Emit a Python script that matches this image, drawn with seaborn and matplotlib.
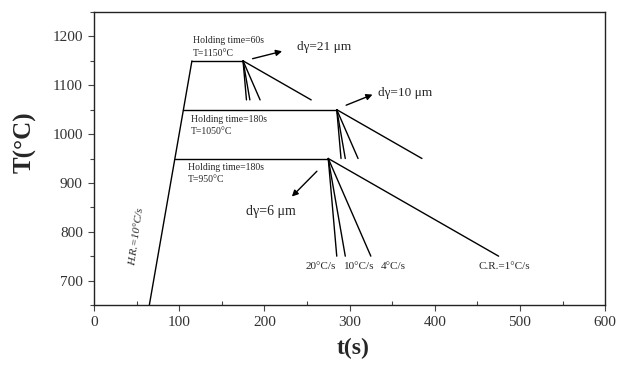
import matplotlib
matplotlib.use("Agg")
import matplotlib.pyplot as plt
import seaborn as sns
import pandas as pd
from matplotlib.ticker import MultipleLocator

# ---- data ----
heat_t = [65, 115]
heat_T = [650, 1150]

plateau_T = [1150, 1050, 950]
plateau_start = [115, 105, 95]
plateau_end = [175, 285, 275]

cool_end_T = [1070, 950, 750]
cool_end_t = {
    1150: [179, 183, 195, 255],
    1050: [290, 295, 310, 385],
    950: [285, 295, 325, 475],
}
rate_labels = ["20°C/s", "10°C/s", "4°C/s", "C.R.=1°C/s"]
rate_label_t = [248, 293, 336.5, 451]

x_ticks = [0, 100, 200, 300, 400, 500, 600]
y_ticks = [700, 800, 900, 1000, 1100, 1200]

# ---- build segment table ----
rows = []
seg = 0
rows += [(seg, heat_t[0], heat_T[0]), (seg, heat_t[1], heat_T[1])]
for T, s, e, Tend in zip(plateau_T, plateau_start, plateau_end, cool_end_T):
    seg += 1
    rows += [(seg, s, T), (seg, e, T)]
    for te in cool_end_t[T]:
        seg += 1
        rows += [(seg, e, T), (seg, te, Tend)]
df = pd.DataFrame(rows, columns=["seg", "t", "T"])

sns.set_style("ticks")
plt.rcParams["font.family"] = ["Liberation Serif", "DejaVu Serif"]

fig = plt.figure(figsize=(6.29, 3.65), dpi=100)
ax = fig.add_axes([0.1494, 0.1644, 0.8126, 0.8027])

sns.lineplot(data=df, x="t", y="T", units="seg", estimator=None, sort=False,
             color="black", linewidth=1.0, ax=ax, legend=False)

ax.set_xlim(0, 600)
ax.set_ylim(650, 1250)
ax.set_xticks(x_ticks)
ax.set_yticks(y_ticks)
ax.xaxis.set_minor_locator(MultipleLocator(50))
ax.yaxis.set_minor_locator(MultipleLocator(50))
ax.tick_params(axis="both", which="major", direction="out", length=4, width=0.8,
               labelsize=11, pad=4, color="#444444", labelcolor="#333333")
ax.tick_params(axis="x", which="minor", direction="in", length=3, width=0.8, color="#444444")
ax.tick_params(axis="y", which="minor", direction="out", length=3, width=0.8, color="#444444")
for sp in ax.spines.values():
    sp.set_visible(True)
    sp.set_linewidth(1.0)
    sp.set_color("#222222")

ax.set_xlabel("t(s)", fontsize=17, fontweight="bold")
ax.set_ylabel("T(°C)", fontsize=18, fontweight="bold")
ax.xaxis.set_label_coords(0.507, -0.112)
ax.yaxis.set_label_coords(-0.112, 0.556)

small = 7
# plateau annotations
ax.text(116, 1191, "Holding time=60s", fontsize=small, va="center", ha="left")
ax.text(116, 1166, "T=1150°C", fontsize=small, va="center", ha="left")
ax.text(114, 1030, "Holding time=180s", fontsize=small, va="center", ha="left")
ax.text(114, 1005, "T=1050°C", fontsize=small, va="center", ha="left")
ax.text(110, 932, "Holding time=180s", fontsize=small, va="center", ha="left")
ax.text(110, 906, "T=950°C", fontsize=small, va="center", ha="left")

# grain size arrows
arrowprops = dict(arrowstyle="-|>", color="black", lw=1.0, mutation_scale=9)
ax.annotate("", xy=(224, 1171), xytext=(183, 1153), arrowprops=arrowprops)
ax.text(238, 1179, "dγ=21 μm", fontsize=9.5, va="center", ha="left")
ax.annotate("", xy=(330, 1083), xytext=(293, 1057), arrowprops=arrowprops)
ax.text(333, 1084, "dγ=10 μm", fontsize=9.5, va="center", ha="left")
ax.annotate("", xy=(230, 868), xytext=(264, 928), arrowprops=arrowprops)
ax.text(179, 842, "dγ=6 μm", fontsize=10, va="center", ha="left")

# cooling rate labels
for lab, tx in zip(rate_labels, rate_label_t):
    ax.text(tx, 728, lab, fontsize=8, va="center", ha="left")

ax.text(50, 790, "H.R.=10°C/s", fontsize=8, va="center", ha="center",
        rotation=82, style="italic")

fig.savefig("out.png", dpi=100)
